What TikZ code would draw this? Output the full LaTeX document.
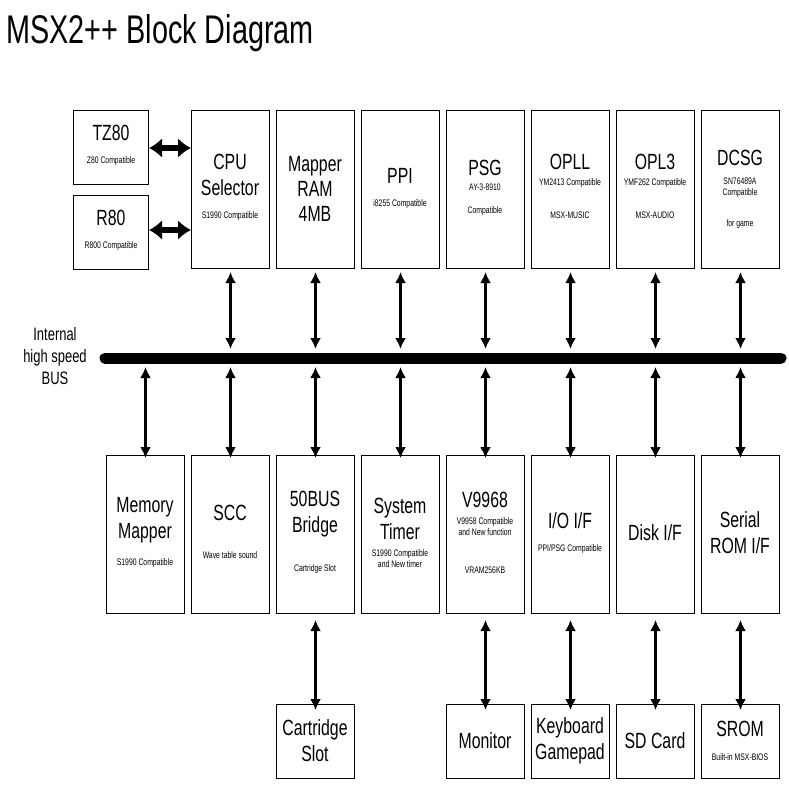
\documentclass[tikz,border=0pt]{standalone}
\usepackage{fontspec}
\setmainfont{Liberation Sans}[FakeStretch=0.72]
\usetikzlibrary{arrows.meta}
\begin{document}
\begin{tikzpicture}[x=1pt,y=-1pt,
 blk/.style={draw,line width=1pt,minimum width=78pt,minimum height=158pt,anchor=north west,inner sep=0pt},
 sblk/.style={draw,line width=1pt,minimum width=75pt,minimum height=74pt,anchor=north west,inner sep=0pt},
 lblk/.style={draw,line width=1pt,minimum width=78pt,minimum height=74pt,anchor=north west,inner sep=0pt},
 big/.style={font=\fontsize{22}{24}\selectfont},
 sm/.style={font=\fontsize{9.5}{11}\selectfont},
 arr/.style={{Latex[length=11pt,width=11pt]}-{Latex[length=11pt,width=11pt]},line width=3pt},
 harr/.style={{Latex[length=13pt,width=20pt]}-{Latex[length=13pt,width=20pt]},line width=6pt}]
\useasboundingbox (0,0) rectangle (789,789);
\node[anchor=west,font=\fontsize{40}{42}\selectfont] (title) at (3,33) {MSX2++ Block Diagram};
% top row
\node[sblk] (tz) at (73,110) {};
\node[big] at (111,133) {TZ80}; \node[sm] at (111,161) {Z80 Compatible};
\node[sblk] (r8) at (73,195) {};
\node[big] at (111,218) {R80}; \node[sm] at (111,246) {R800 Compatible};
\foreach \n/\x in {cpu/191,map/276,ppi/361,psg/446,opll/531,opl3/616,dcsg/701}
  \node[blk] (\n) at (\x,110) {};
\node[big,align=center,font=\fontsize{22}{26}\selectfont] at (230,175) {CPU\\Selector}; \node[sm] at (230,216) {S1990 Compatible};
\node[big,align=center,font=\fontsize{22}{25}\selectfont] at (315,189) {Mapper\\RAM\\4MB};
\node[big] at (400,176) {PPI}; \node[sm] at (400,204) {i8255 Compatible};
\node[big] at (485,168) {PSG}; \node[sm] at (485,187) {AY-3-8910}; \node[sm] at (485,211) {Compatible};
\node[big] at (570,162) {OPLL}; \node[sm] at (570,183) {YM2413 Compatible}; \node[sm] at (570,215) {MSX-MUSIC};
\node[big] at (655,162) {OPL3}; \node[sm] at (655,183) {YMF262 Compatible}; \node[sm] at (655,215) {MSX-AUDIO};
\node[big] at (740,158) {DCSG}; \node[sm,align=center] at (740,188) {SN76489A\\Compatible}; \node[sm] at (740,224) {for game};
\draw[harr] (tz.east |- 0,148) -- (cpu.west |- 0,148);
\draw[harr] (r8.east |- 0,230) -- (cpu.west |- 0,230);
% bus
\coordinate (b1) at (105,358); \coordinate (b2) at (781,358);
\draw[line width=11pt,line cap=round] (b1) -- (b2);
\node[align=center,font=\fontsize{18}{22}\selectfont] (buslbl) at (55,356) {Internal\\high speed\\BUS};
% bottom row
\foreach \n/\x in {mm/106,scc/191,bb/276,st/361,vdp/446,io/531,disk/616,ser/701}
  \node[blk] (\n) at (\x,455) {};
\node[big,align=center,font=\fontsize{22}{26}\selectfont] at (145,520) {Memory\\Mapper}; \node[sm] at (145,563) {S1990 Compatible};
\node[big] at (230,513) {SCC}; \node[sm] at (230,555) {Wave table sound};
\node[big,align=center,font=\fontsize{22}{26}\selectfont] at (315,514) {50BUS\\Bridge}; \node[sm] at (315,569) {Cartridge Slot};
\node[big,align=center,font=\fontsize{22}{26}\selectfont] at (400,519) {System\\Timer}; \node[sm,align=center] at (400,559) {S1990 Compatible\\and New timer};
\node[big] at (485,500) {V9968}; \node[sm,align=center] at (485,527) {V9958 Compatible\\and New function}; \node[sm] at (485,570) {VRAM256KB};
\node[big] at (570,521) {I/O I/F}; \node[sm] at (570,549) {PPI/PSG Compatible};
\node[big] at (655,533) {Disk I/F};
\node[big,align=center,font=\fontsize{22}{26}\selectfont] at (740,533) {Serial\\ROM I/F};
\foreach \n/\x in {cart/276,mon/446,kbd/531,sd/616,srom/701}
  \node[lblk] (\n) at (\x,704) {};
\node[big,align=center,font=\fontsize{22}{26}\selectfont] at (315,741) {Cartridge\\Slot};
\node[big] at (485,741) {Monitor};
\node[big,align=center,font=\fontsize{22}{26}\selectfont] at (570,741) {Keyboard\\Gamepad};
\node[big] at (655,741) {SD Card};
\node[big] at (740,729) {SROM}; \node[sm] at (740,757) {Built-in MSX-BIOS};
% arrows
\foreach \n in {cpu,map,ppi,psg,opll,opl3,dcsg}
  \draw[arr] ([yshift=-3pt]\n.south) -- (\n.south |- 0,349);
\foreach \n in {mm,scc,bb,st,vdp,io,disk,ser}
  \draw[arr] (\n.north |- 0,367) -- ([yshift=-3pt]\n.north);
\foreach \a/\b in {bb/cart,vdp/mon,io/kbd,disk/sd,ser/srom}
  \draw[arr] ([yshift=-6pt]\a.south) -- ([yshift=-6pt]\b.north);
\end{tikzpicture}
\end{document}
